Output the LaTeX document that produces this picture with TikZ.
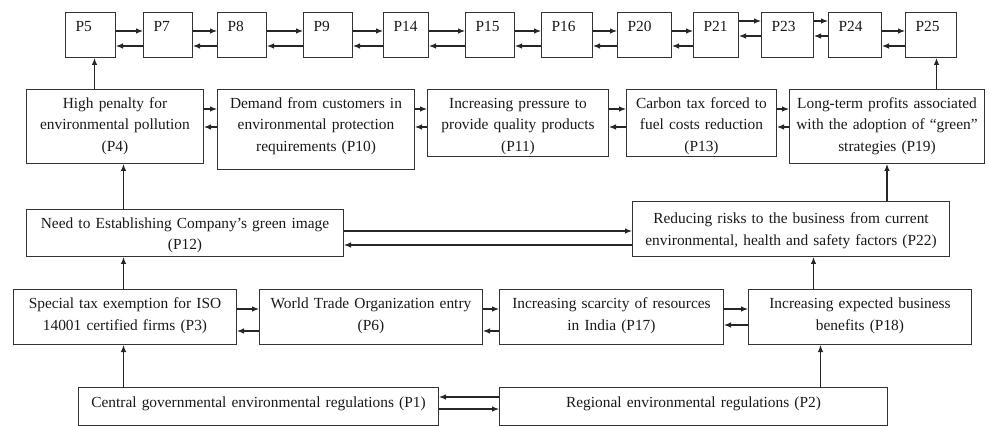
\documentclass[tikz,border=0pt]{standalone}
\usepackage{fontspec}
\setmainfont{Liberation Serif}
\usepackage{tikz}
\usetikzlibrary{arrows.meta}

\tikzset{
  box/.style={draw=black!80, line width=1pt, anchor=north west, inner sep=0pt,
    align=center, text height=19pt, text=black!90,
    font=\fontsize{15.4}{21.5}\selectfont},
  pbox/.style={box, align=left, inner xsep=10pt, text height=19.2pt, text depth=25.8pt},
  arr/.style={draw=black!85, line width=1.1pt, -{Latex[length=7pt,width=5.5pt]}}
}

\begin{document}
\begin{tikzpicture}[x=1pt,y=-1pt]
        \useasboundingbox (0,0) rectangle (990,427);
        % chain of P boxes along the top
        \node[pbox, text width=30pt] (p5) at (65,12) {P5};
        \node[pbox, text width=29pt] (p7) at (143,12) {P7};
        \node[pbox, text width=29pt] (p8) at (217,12) {P8};
        \node[pbox, text width=29pt] (p9) at (303,12) {P9};
        \node[pbox, text width=25pt] (p14) at (383,12) {P14};
        \node[pbox, text width=29pt] (p15) at (465,12) {P15};
        \node[pbox, text width=31pt] (p16) at (541,12) {P16};
        \node[pbox, text width=34pt] (p20) at (617,12) {P20};
        \node[pbox, text width=25pt] (p21) at (693,12) {P21};
        \node[pbox, text width=32pt] (p23) at (761,12) {P23};
        \node[pbox, text width=33pt] (p24) at (828,12) {P24};
        \node[pbox, text width=31pt] (p25) at (905,12) {P25};
        \foreach \a/\b in {p5/p7,p7/p8,p8/p9,p9/p14,p14/p15,p15/p16,p16/p20,p20/p21,p24/p25} {
        \draw[arr] ([yshift=-19pt]\a.north east) -- ([yshift=-19pt]\b.north west);
        \draw[arr] ([yshift=-34pt]\b.north west) -- ([yshift=-34pt]\a.north east);
        }
        \foreach \a/\b in {p21/p23,p23/p24} {
        \draw[arr] ([yshift=-9pt]\a.north east) -- ([yshift=-9pt]\b.north west);
        \draw[arr] ([yshift=-24pt]\b.north west) -- ([yshift=-24pt]\a.north east);
        }
        % second row
        \node[box, text width=177pt, text depth=55pt] (p4) at (26,89) {High penalty for\\environmental pollution\\(P4)};
        \node[box, text width=197pt, text depth=61pt] (p10) at (217,89) {Demand from customers in\\environmental protection\\requirements (P10)};
        \node[box, text width=181pt, text depth=48pt] (p11) at (427,89) {Increasing pressure to\\provide quality products\\(P11)};
        \node[box, text width=150pt, text depth=48pt] (p13) at (626,89) {Carbon tax forced to\\fuel costs reduction\\(P13)};
        \node[box, text width=195pt, text depth=55pt] (p19) at (789,89) {Long-term profits associated\\with the adoption of ``green''\\strategies (P19)};
        \foreach \a/\b in {p4/p10,p10/p11,p11/p13,p13/p19} {
        \draw[arr] ([yshift=-20pt]\a.north east) -- ([yshift=-20pt]\b.north west);
        \draw[arr] ([yshift=-38pt]\b.north west) -- ([yshift=-38pt]\a.north east);
        }
        % third row
        \node[box, text width=317pt, text depth=28pt] (p12) at (26,209) {Need to Establishing Company's green image\\(P12)};
        \node[box, text width=317pt, text height=22.5pt, text depth=32.5pt] (p22) at (632,201) {Reducing risks to the business from current\\environmental, health and safety factors (P22)};
        \draw[arr] ([yshift=26pt]p12.south east) -- ([yshift=26pt]p22.south west);
        \draw[arr] ([yshift=12pt]p22.south west) -- ([yshift=12pt]p12.south east);
        % fourth row
        \node[box, text width=223pt, text height=19.5pt, text depth=35.5pt] (p3) at (13,289) {Special tax exemption for ISO\\14001 certified firms (P3)};
        \node[box, text width=223pt, text height=19.5pt, text depth=35.5pt] (p6) at (259,289) {World Trade Organization entry\\(P6)};
        \node[box, text width=224pt, text height=19.5pt, text depth=35.5pt] (p17) at (499,289) {Increasing scarcity of resources\\in India (P17)};
        \node[box, text width=223pt, text height=19.5pt, text depth=35.5pt] (p18) at (748,289) {Increasing expected business\\benefits (P18)};
        \foreach \a/\b/\d in {p3/p6/42,p6/p17/42,p17/p18/36} {
        \draw[arr] ([yshift=-20pt]\a.north east) -- ([yshift=-20pt]\b.north west);
        \draw[arr] ([yshift=-\d pt]\b.north west) -- ([yshift=-\d pt]\a.north east);
        }
        % regulations at the bottom
        \node[box, text width=360pt, text height=20pt, text depth=18pt] (p1) at (78,387) {Central governmental environmental regulations (P1)};
        \node[box, text width=388pt, text height=20pt, text depth=18pt] (p2) at (499,387) {Regional environmental regulations (P2)};
        \draw[arr] ([yshift=-10pt]p2.north west) -- ([yshift=-10pt]p1.north east);
        \draw[arr] ([yshift=-22pt]p1.north east) -- ([yshift=-22pt]p2.north west);
        % upward links
        \draw[arr] ([xshift=-1.5pt]p3.south |- p1.north) -- ([xshift=-1.5pt]p3.south);
        \draw[arr] ([xshift=-1.5pt]p3.north) -- ([xshift=-1.5pt]p3.north |- p12.south);
        \draw[arr] ([xshift=8.5pt]p4.south |- p12.north) -- ([xshift=8.5pt]p4.south);
        \draw[arr] ([xshift=4pt]p5.south |- p4.north) -- ([xshift=4pt]p5.south);
        \draw[arr] ([xshift=127pt]p2.north) -- ([xshift=127pt]p2.north |- p18.south);
        \draw[arr] ([xshift=22.5pt]p22.south |- p18.north) -- ([xshift=22.5pt]p22.south);
        \draw[arr] (p19.south |- p22.north) -- (p19.south);
        \draw[arr] ([xshift=5.5pt]p25.south |- p19.north) -- ([xshift=5.5pt]p25.south);
\end{tikzpicture}
\end{document}
